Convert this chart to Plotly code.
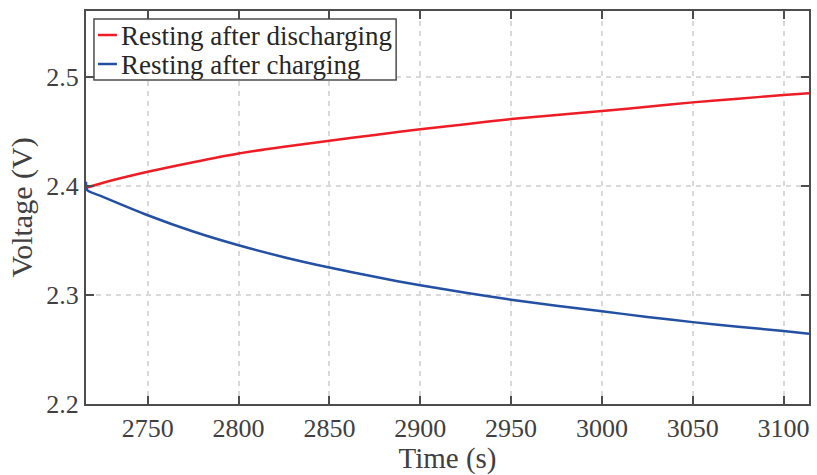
import plotly.graph_objects as go

# Rest-period voltage relaxation
time_discharge = [2716, 2725, 2750, 2775, 2800, 2825, 2850, 2875, 2900, 2925,
                  2950, 2975, 3000, 3025, 3050, 3075, 3100, 3114]
volt_discharge = [2.398, 2.4025, 2.4127, 2.4215, 2.4295, 2.4357, 2.4411, 2.4465, 2.4516, 2.4563,
                  2.4610, 2.4648, 2.4683, 2.4723, 2.4763, 2.4797, 2.4830, 2.4846]

time_charge = [2716, 2716.6, 2725, 2750, 2775, 2800, 2825, 2850, 2875, 2900, 2925,
               2950, 2975, 3000, 3025, 3050, 3075, 3100, 3114]
volt_charge = [2.4035, 2.396, 2.390, 2.3729, 2.358, 2.3454, 2.3345, 2.3250, 2.3165, 2.3087, 2.3020,
               2.2956, 2.2900, 2.2849, 2.2798, 2.2750, 2.2708, 2.2668, 2.2644]

x_ticks = [2750, 2800, 2850, 2900, 2950, 3000, 3050, 3100]
y_ticks = [2.2, 2.3, 2.4, 2.5]

series = [
    ("Resting after discharging", "#ee1c25", time_discharge, volt_discharge),
    ("Resting after charging", "#2350a3", time_charge, volt_charge),
]

FONT = "Liberation Serif"
TXT = "#404040"
AX = "#4d4d4d"

fig = go.Figure()
for name, color, xs, ys in series:
    fig.add_trace(go.Scatter(x=xs, y=ys, mode="lines", name=name, showlegend=False,
                             line=dict(color=color, width=2.5, shape="spline", smoothing=0.6)))

axis_common = dict(
    showline=True, linecolor=AX, linewidth=2, mirror="allticks",
    ticks="inside", ticklen=8, tickwidth=2, tickcolor=AX,
    showgrid=True, gridcolor="#d9d9d9", gridwidth=1.5, griddash="5px,5px",
    zeroline=False,
    tickfont=dict(family=FONT, size=26, color=TXT),
)

fig.update_xaxes(range=[2716, 3114], tickvals=x_ticks,
                 title=dict(text="Time (s)", font=dict(family=FONT, size=29, color=TXT), standoff=5),
                 **axis_common)
fig.update_yaxes(range=[2.2, 2.56], tickvals=y_ticks, tickformat=".1f",
                 title=dict(text="Voltage (V)", font=dict(family=FONT, size=30, color=TXT), standoff=5),
                 **axis_common)

# Compact legend box in the upper-left corner (pixel offsets from the plot area)
W, H = 817, 475
ML, MR, MT, MB = 86, 6, 11, 71
PW, PH = W - ML - MR, H - MT - MB


def px(x):
    return (x - ML) / PW


def py(y):
    return 1 - (y - MT) / PH


shapes = [dict(type="rect", xref="paper", yref="paper",
               x0=px(94), x1=px(397), y0=py(80), y1=py(19),
               line=dict(color=AX, width=1.5), fillcolor="white", layer="above")]
annotations = []
for i, (name, color, _, _) in enumerate(series):
    yc = 35 + 29 * i
    shapes.append(dict(type="line", xref="paper", yref="paper",
                       x0=px(98), x1=px(117), y0=py(yc), y1=py(yc),
                       line=dict(color=color, width=2.5), layer="above"))
    annotations.append(dict(xref="paper", yref="paper", x=px(119), y=py(yc + 1),
                            xanchor="left", yanchor="middle", showarrow=False,
                            text=name, font=dict(family=FONT, size=27, color="#262626")))

fig.update_layout(
    width=W, height=H,
    margin=dict(l=ML, r=MR, t=MT, b=MB),
    paper_bgcolor="white", plot_bgcolor="white",
    shapes=shapes, annotations=annotations,
)

fig.write_html("out.html")
